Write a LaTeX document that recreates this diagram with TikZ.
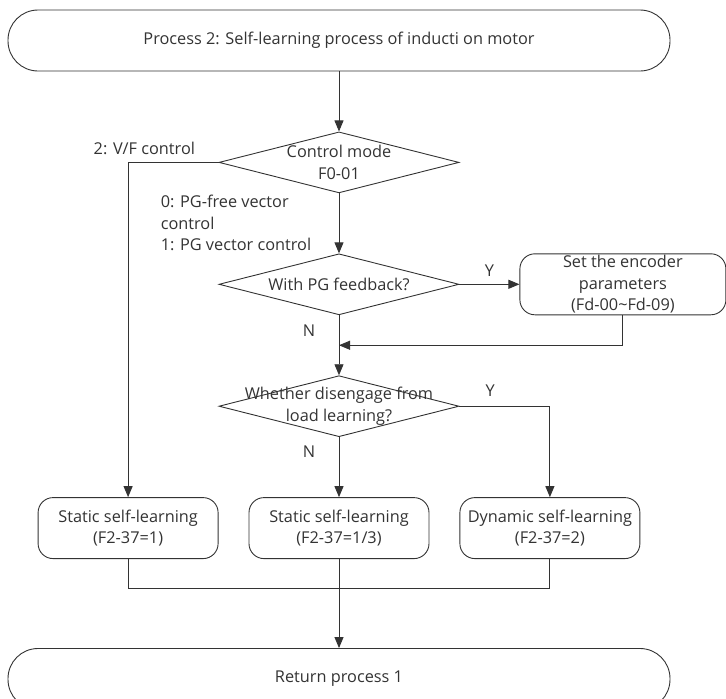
\documentclass[tikz,border=0pt]{standalone}
\usepackage{fontspec}
\setmainfont{Open Sans}
\usetikzlibrary{positioning,arrows.meta,calc,shapes.geometric}

\begin{document}
\begin{tikzpicture}[
    x=1pt, y=1pt,
    node distance=60pt,
    color=black!80,
    line width=0.9pt,
    font=\fontsize{16.3}{21.5}\selectfont,
    terminal/.style={draw, rounded corners=30pt, minimum width=662pt, minimum height=61pt},
    box/.style={draw, rounded corners=15pt, minimum width=180pt, minimum height=61pt, align=center, inner sep=1pt},
    decision/.style={draw, diamond, minimum width=240pt, minimum height=61pt, inner sep=0pt},
    arr/.style={-{Triangle[length=11pt, width=9pt]}}
]
\useasboundingbox (0,0) rectangle (726,-699);

\node[terminal] (start) at (339,-40.5) {Process 2: Self-learning process of inducti on motor};
\node[decision, below=of start, label={[align=center]center:Control mode\\F0-01}] (mode) {};
\node[decision, below=of mode, label={center:With PG feedback?}] (fb) {};
\node[box, right=of fb, minimum width=206pt, inner sep=0pt] (enc) {Set the encoder\\parameters\\(Fd-00\textasciitilde Fd-09)};
\node[decision, below=of fb, label={[align=center]center:Whether disengage from\\load learning?}] (dis) {};

\node[box, below=of dis] (stat2) {Static self-learning\\(F2-37=1/3)};
\node[box, left=30pt of stat2] (stat1) {Static self-learning\\(F2-37=1)};
\node[box, right=30pt of stat2] (dyn) {Dynamic self-learning\\(F2-37=2)};
\node[terminal, below=89pt of stat2] (end) {Return process 1};

\coordinate (join) at ($(fb.south)!0.5!(dis.north)$);
\coordinate[below=29pt of stat2] (merge);

\draw[arr] (start) -- (mode);
\draw[arr] (mode.west) -| node[pos=0.41, above=4pt] {2: V/F control} (stat1.north);
\draw[arr] (mode) -- node[left=24pt, align=left] {0: PG-free vector\\control\\1: PG vector control} (fb);
\draw[arr] (fb) -- node[above=4pt] {Y} (enc);
\draw (fb.south) -- node[left=20pt] {N} (join);
\draw[arr] (enc.south) |- (join);
\draw[arr] (join) -- (dis.north);
\draw[arr] (dis.east) -| node[pos=0.17, above=6pt] {Y} (dyn.north);
\draw[arr] (dis) -- node[pos=0.25, left=20pt] {N} (stat2);
\draw (stat1.south) |- (merge) -| (dyn.south);
\draw[arr] (stat2) -- (end);
\end{tikzpicture}
\end{document}
